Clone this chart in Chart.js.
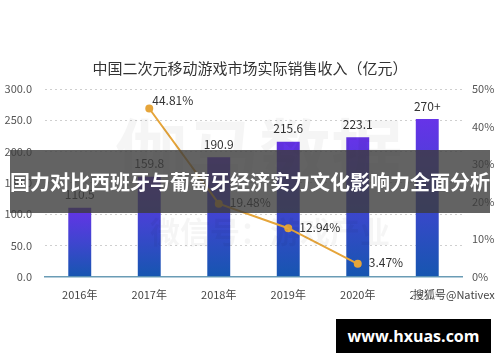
<!DOCTYPE html>
<html><head><meta charset="utf-8">
<script src="https://cdn.jsdelivr.net/npm/chart.js@4"></script>
<style>
html,body{margin:0;padding:0;background:#fff;}
#wrap{position:relative;width:500px;height:362px;overflow:hidden;font-family:"Noto Sans CJK SC","Noto Sans",sans-serif;}
canvas{position:absolute;left:0;top:0;}
.wm{position:absolute;color:rgba(0,0,0,0.04);font-weight:bold;white-space:nowrap;}
#banner{position:absolute;left:10px;top:150px;width:480px;height:63px;background:rgba(60,60,60,0.8);color:#fff;font-weight:bold;font-size:20px;line-height:63px;text-align:center;white-space:nowrap;letter-spacing:0px;}
#site{position:absolute;left:336px;top:319px;width:155px;height:34px;background:#000;color:#fff;font-weight:bold;font-size:16px;line-height:34px;text-align:center;font-family:"Open Sans","DejaVu Sans",sans-serif;}
#sohu{position:absolute;left:413px;top:287px;font-size:11px;color:#444;background:rgba(255,255,255,0.75);line-height:15px;white-space:nowrap;}
</style></head>
<body><div id="wrap">
<canvas id="c" width="500" height="362"></canvas>
<div class="wm" style="left:115px;top:95px;font-size:72px;">伽马数据</div>
<div class="wm" style="left:150px;top:208px;font-size:30px;">微信号：游戏产业</div>
<div id="banner">国力对比西班牙与葡萄牙经济实力文化影响力全面分析</div>
<div id="sohu">搜狐号@Nativex</div>
<div id="site">www.hxuas.com</div>
</div>
<script>
const categories = ["2016年","2017年","2018年","2019年","2020年","2021年"];
const revenue = [110.5, 159.8, 190.9, 215.6, 223.1, 252];
const revenueLabels = ["110.5","159.8","190.9","215.6","223.1","270+"];
const growth = [null, 44.81, 19.48, 12.94, 3.47, null];
const growthLabels = [null, "44.81%", "19.48%", "12.94%", "3.47%", null];
const leftTicks = [0, 50, 100, 150, 200, 250, 300];
const rightTicks = [0, 10, 20, 30, 40, 50];

const FONT = '"Noto Sans CJK SC","Noto Sans",sans-serif';

const labelPlugin = {
  id: 'labels',
  afterDatasetsDraw(chart) {
    const ctx = chart.ctx;
    ctx.save();
    ctx.font = '12px ' + FONT;
    ctx.fillStyle = '#333';
    ctx.textAlign = 'center';
    ctx.textBaseline = 'bottom';
    chart.getDatasetMeta(1).data.forEach((el, i) => {
      ctx.fillText(revenueLabels[i], el.x, el.y - 7);
    });
    ctx.textAlign = 'left';
    ctx.textBaseline = 'middle';
    chart.getDatasetMeta(0).data.forEach((el, i) => {
      if (growthLabels[i] == null) return;
      const dx = i === 1 ? 3 : 11;
      const dy = i === 1 ? -8 : -1;
      ctx.fillText(growthLabels[i], el.x + dx, el.y + dy);
    });
    ctx.restore();
  }
};

function barGradient(context) {
  const chart = context.chart;
  if (!chart.chartArea) return '#4a3fd8';
  const base = chart.scales.y.getPixelForValue(0);
  const top = chart.scales.y.getPixelForValue(revenue[context.dataIndex]);
  const g = chart.ctx.createLinearGradient(0, top, 0, base);
  g.addColorStop(0, '#6633e8');
  g.addColorStop(0.5, '#3f45cf');
  g.addColorStop(1, '#1656b0');
  return g;
}

new Chart(document.getElementById('c'), {
  data: {
    labels: categories,
    datasets: [
      {
        type: 'line',
        data: growth,
        yAxisID: 'y2',
        borderColor: '#e6a53a',
        backgroundColor: '#e6a53a',
        borderWidth: 2,
        pointRadius: 3,
        pointHoverRadius: 3,
        tension: 0,
        order: 0
      },
      {
        type: 'bar',
        data: revenue,
        yAxisID: 'y',
        backgroundColor: barGradient,
        borderWidth: 0,
        barPercentage: 0.66,
        categoryPercentage: 0.5,
        order: 1
      }
    ]
  },
  options: {
    responsive: false,
    animation: false,
    events: [],
    layout: { padding: { top: 0, bottom: 50, left: 0, right: 0 } },
    plugins: {
      legend: { display: false },
      tooltip: { enabled: false },
      title: {
        display: true,
        text: '中国二次元移动游戏市场实际销售收入（亿元）',
        color: '#333',
        font: { family: FONT, size: 15, weight: 'normal' },
        padding: { top: 59, bottom: 12 }
      }
    },
    scales: {
      x: {
        grid: { display: false, drawTicks: false },
        border: { color: '#6a9cb5', width: 1.5 },
        ticks: { color: '#444', font: { family: FONT, size: 11 }, padding: 11 }
      },
      y: {
        position: 'left',
        min: 0, max: 300,
        afterBuildTicks: s => { s.ticks = leftTicks.map(v => ({ value: v })); },
        afterFit: s => { s.width = 45; },
        grid: { color: '#cfcfcf', drawTicks: false, lineWidth: 1 },
        border: { display: true, color: 'rgba(0,0,0,0)', width: 0, dash: [2, 3] },
        ticks: { color: '#555', font: { family: FONT, size: 11 }, padding: 13,
                 callback: v => v.toFixed(1) }
      },
      y2: {
        position: 'right',
        min: 0, max: 50,
        afterBuildTicks: s => { s.ticks = rightTicks.map(v => ({ value: v })); },
        afterFit: s => { s.width = 38; },
        grid: { display: false, drawTicks: false },
        border: { display: false },
        ticks: { color: '#555', font: { family: FONT, size: 11 }, padding: 10,
                 callback: v => v + '%' }
      }
    }
  },
  plugins: [labelPlugin]
});
</script>
</body></html>
